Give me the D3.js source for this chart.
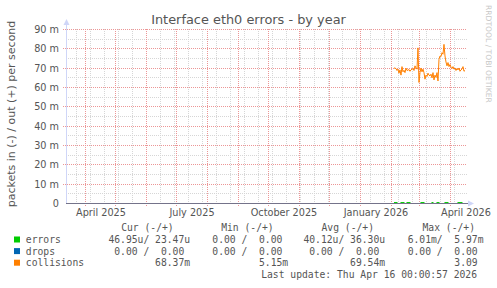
<!DOCTYPE html>
<html>
<head>
<meta charset="utf-8">
<script src="https://cdn.jsdelivr.net/npm/d3@7"></script>
<style>
    html, body { margin: 0; padding: 0; background: #fff; }
    svg { display: block; }
</style>
</head>
<body>
<div id="chart"></div>
<script>
// time window of the graph (400 days, munin "by year")
const rangeStart = new Date(2025, 2, 12, 0, 0, 57);
const rangeEnd = new Date(2026, 3, 16, 0, 0, 57);

// daily samples start here
const seriesStart = new Date(2026, 1, 3);

// collisions, in milli packets/s (one value per day)
const collisions = [
    70.1, 70.0, 69.8, 68.8, 69.5, 67.4, 69.1, 66.4, 70.8, 68.1,
    68.9, 67.7, 70.0, 68.8, 69.0, 69.3, 68.4, 69.1, 69.5, 69.8,
    68.8, 71.2, 70.1, 69.5, 80.5, 62.6, 67.7, 70.1, 68.1, 69.5,
    67.7, 64.3, 66.4, 65.7, 67.4, 66.4, 66.0, 66.9, 65.0, 67.7,
    63.9, 66.4, 65.2, 67.7, 63.4, 74.6, 76.3, 76.0, 78.0, 77.2,
    82.3, 76.3, 73.2, 71.2, 72.9, 70.8, 71.9, 70.5, 69.8, 70.8,
    69.5, 70.1, 68.8, 69.8, 69.1, 70.1, 68.4, 69.1, 69.5, 70.8,
    68.4, 68.8
];

// errors out, in milli packets/s
const errorsOut = [
    0.5, 0.5, 0.5, 0.5, 0, 0, 0, 0.5, 0.5, 0.5,
    0.5, 0, 0, 0.5, 0.5, 0.5, 0.5, 0, 0, 0,
    0, 0, 0, 0, 0, 0, 0, 0.5, 0.5, 0.5,
    0.5, 0, 0, 0, 0, 0, 0, 0, 0.5, 0.5,
    0, 0, 0, 0.5, 0.5, 0.5, 0, 0, 0, 0,
    0, 0.5, 0.5, 0.5, 0.5, 0, 0, 0, 0, 0,
    0, 0, 0, 0, 0.5, 0.5, 0.5, 0.5, 0.5, 0,
    0, 0
];

// drops, all zero
const drops = collisions.map(() => 0);

const yTicks = [0, 10, 20, 30, 40, 50, 60, 70, 80, 90];
const yMinorTicks = [5, 15, 25, 35, 45, 55, 65, 75, 85];

const seriesNames = ['errors', 'drops', 'collisions'];
const seriesColors = ['#00cc00', '#0066b3', '#ff8000'];
const legendHeaders = ['Cur (-/+)', 'Min (-/+)', 'Avg (-/+)', 'Max (-/+)'];
const curValues = [' 46.95u/ 23.47u', '  0.00 /  0.00 ', '         68.37m'];
const minValues = ['  0.00 /  0.00 ', '  0.00 /  0.00 ', '          5.15m'];
const avgValues = [' 40.12u/ 36.30u', '  0.00 /  0.00 ', '         69.54m'];
const maxValues = ['  6.01m/  5.97m', '  0.00 /  0.00 ', '          3.09 '];
const lastUpdate = 'Last update: Thu Apr 16 00:00:57 2026';

const width = 497;
const height = 288;
const plot = { left: 66, right: 466, top: 29.5, bottom: 203.5 };

const svg = d3.select('#chart')
    .append('svg')
    .attr('width', width)
    .attr('height', height);

svg.append('rect')
    .attr('width', width)
    .attr('height', height)
    .attr('fill', '#fff');

const x = d3.scaleTime()
    .domain([rangeStart, rangeEnd])
    .range([plot.left, plot.right]);

const y = d3.scaleLinear()
    .domain([0, 90])
    .range([plot.bottom, plot.top]);

const textColor = '#555';
const minorColor = '#d6d6d6';
const majorColor = '#ec9696';
const axisColor = '#cfd6f8';
const px = v => Math.floor(v) + 0.5;
// monospace legend keeps its padding
const keepSpaces = s => s.replace(/ /g, '\u00a0');

const grid = svg.append('g');

// minor vertical grid, every two weeks
const minorDays = d3.timeDay.range(new Date(2025, 2, 23), rangeEnd, 14);
grid.selectAll('line.vminor')
    .data(minorDays)
    .enter().append('line')
    .attr('x1', d => px(x(d)))
    .attr('x2', d => px(x(d)))
    .attr('y1', y(90) - 0.5)
    .attr('y2', y(0))
    .attr('stroke', minorColor)
    .attr('stroke-dasharray', '1,1');

// minor horizontal grid
grid.selectAll('line.hminor')
    .data(yMinorTicks)
    .enter().append('line')
    .attr('x1', plot.left)
    .attr('x2', plot.right + 1)
    .attr('y1', d => px(y(d)))
    .attr('y2', d => px(y(d)))
    .attr('stroke', minorColor)
    .attr('stroke-dasharray', '1,1');

// major vertical grid, month starts
const months = d3.timeMonth.range(d3.timeMonth.ceil(rangeStart), rangeEnd);
grid.selectAll('line.vmajor')
    .data(months)
    .enter().append('line')
    .attr('x1', d => px(x(d)))
    .attr('x2', d => px(x(d)))
    .attr('y1', y(90) - 0.5)
    .attr('y2', y(0) + 3)
    .attr('stroke', majorColor)
    .attr('stroke-dasharray', '1,1');

// major horizontal grid
grid.selectAll('line.hmajor')
    .data(yTicks.filter(d => d > 0))
    .enter().append('line')
    .attr('x1', plot.left - 3)
    .attr('x2', plot.right + 1)
    .attr('y1', d => px(y(d)))
    .attr('y2', d => px(y(d)))
    .attr('stroke', majorColor)
    .attr('stroke-dasharray', '1,1');

// y tick labels
svg.selectAll('text.ytick')
    .data(yTicks)
    .enter().append('text')
    .attr('x', 59)
    .attr('y', d => Math.floor(y(d)) + 4)
    .attr('text-anchor', 'end')
    .style('font-family', 'DejaVu Sans')
    .style('font-size', '9.7px')
    .style('fill', textColor)
    .text(d => d === 0 ? '0' : d + ' m');

// x labels, centred half a month after the quarter start
const quarters = d3.timeMonth.every(3).range(d3.timeMonth.ceil(rangeStart), rangeEnd);
svg.selectAll('text.xtick')
    .data(quarters)
    .enter().append('text')
    .attr('x', d => x(d3.timeDay.offset(d, 15)))
    .attr('y', 215.5)
    .attr('text-anchor', 'middle')
    .style('font-family', 'DejaVu Sans')
    .style('font-size', '9.7px')
    .style('fill', textColor)
    .text(d => d3.timeFormat('%B %Y')(d));

// data lines
const dayOf = i => d3.timeDay.offset(seriesStart, i);
const line = d3.line()
    .x((d, i) => x(dayOf(i)))
    .y(d => y(d));

svg.append('path')
    .datum(drops)
    .attr('d', line)
    .attr('fill', 'none')
    .attr('stroke', seriesColors[1])
    .attr('stroke-width', 1);

svg.append('path')
    .datum(errorsOut)
    .attr('d', line)
    .attr('fill', 'none')
    .attr('stroke', seriesColors[0])
    .attr('stroke-width', 1);

// axes
svg.append('line')
    .attr('x1', plot.left + 0.5)
    .attr('x2', plot.left + 0.5)
    .attr('y1', y(0))
    .attr('y2', 24)
    .attr('stroke', axisColor);

svg.append('path')
    .attr('d', `M${plot.left - 2.5},25 L${plot.left + 3.5},25 L${plot.left + 0.5},19 Z`)
    .attr('fill', axisColor);

svg.append('line')
    .attr('x1', plot.left)
    .attr('x2', plot.right + 2)
    .attr('y1', px(y(0)))
    .attr('y2', px(y(0)))
    .attr('stroke', '#74738a');

svg.append('path')
    .attr('d', `M${plot.right + 2},${px(y(0)) - 3} L${plot.right + 2},${px(y(0)) + 3} L${plot.right + 8},${px(y(0))} Z`)
    .attr('fill', axisColor);

svg.append('path')
    .datum(collisions)
    .attr('d', line)
    .attr('fill', 'none')
    .attr('stroke', seriesColors[2])
    .attr('stroke-width', 1);

// title
svg.append('text')
    .attr('x', width / 2)
    .attr('y', 24.3)
    .attr('text-anchor', 'middle')
    .style('font-family', 'DejaVu Sans')
    .style('font-size', '12.9px')
    .style('fill', textColor)
    .text('Interface eth0 errors - by year');

// vertical unit label
svg.append('text')
    .attr('transform', 'translate(15, 114) rotate(-90)')
    .attr('text-anchor', 'middle')
    .style('font-family', 'DejaVu Sans')
    .style('font-size', '11px')
    .style('fill', textColor)
    .text('packets in (-) / out (+) per second');

// watermark
svg.append('text')
    .attr('transform', 'translate(485.5, 5) rotate(90)')
    .style('font-family', 'DejaVu Sans')
    .style('font-size', '7.6px')
    .style('fill', '#c8c8c8')
    .text('RRDTOOL / TOBI OETIKER');

// legend
const legend = svg.append('g')
    .style('font-family', 'DejaVu Sans Mono')
    .style('font-size', '9.7px')
    .style('fill', textColor);

const headerX = [121.2, 221.2, 321.5, 422.5];
const columnX = [102.6, 200.7, 297.6, 396];
const rowY = i => 242.9 + i * 11.6;

legend.selectAll('text.head')
    .data(legendHeaders)
    .enter().append('text')
    .attr('x', (d, i) => headerX[i])
    .attr('y', 231.3)
    .text(d => d);

seriesNames.forEach((name, i) => {
    legend.append('rect')
        .attr('x', 14)
        .attr('y', rowY(i) - 6.4)
        .attr('width', 6)
        .attr('height', 6)
        .attr('fill', seriesColors[i]);

    legend.append('text')
        .attr('x', 25.8)
        .attr('y', rowY(i))
        .text(name);

    [curValues, minValues, avgValues, maxValues].forEach((col, c) => {
        legend.append('text')
            .attr('x', columnX[c])
            .attr('y', rowY(i))
            .text(keepSpaces(col[i]));
    });
});

legend.append('text')
    .attr('x', 261.2)
    .attr('y', rowY(3))
    .text(lastUpdate);
</script>
</body>
</html>
